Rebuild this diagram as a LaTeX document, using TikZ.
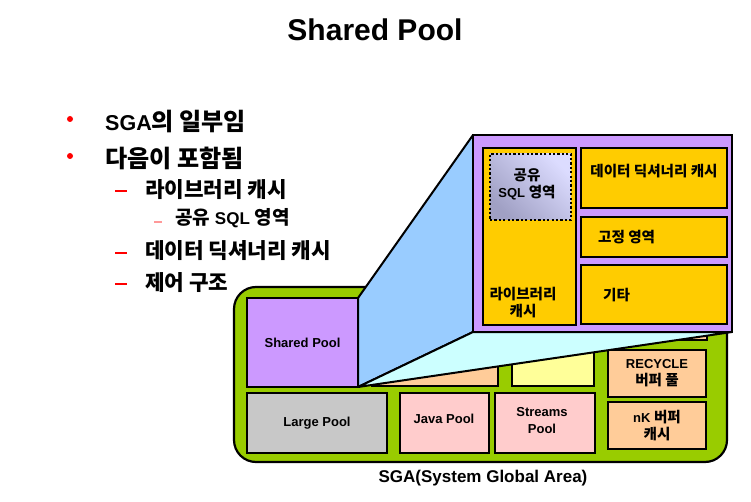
\documentclass[tikz,border=0pt]{standalone}
\usepackage{fontspec}
\setmainfont{Liberation Sans}
\newfontfamily\kr{Noto Sans CJK KR}[Scale=1.12]
\definecolor{sgagreen}{HTML}{99CC00}
\definecolor{sppurple}{HTML}{CC99FF}
\definecolor{sideblue}{HTML}{99CCFF}
\definecolor{lowcyan}{HTML}{CCFFFF}
\definecolor{libyellow}{HTML}{FFCC00}
\definecolor{peach}{HTML}{FFCC99}
\definecolor{lightyellow}{HTML}{FFFF99}
\definecolor{pink}{HTML}{FFCCCC}
\definecolor{greybox}{HTML}{C8C8C8}
\definecolor{bulletred}{HTML}{FF0000}
\definecolor{subred}{HTML}{FF9999}
\definecolor{sqllight}{HTML}{DCDCFF}
\definecolor{sqldark}{HTML}{A0A0C4}
\begin{document}
\begin{tikzpicture}[x=1pt,y=-1pt,
  box/.style={draw=black, line width=2.2pt, inner sep=0pt, outer sep=0pt, anchor=north west},
  lbl/.style={font=\bfseries\fontsize{13}{17}\selectfont, align=center, inner sep=0pt},
  toptext/.style={font=\bfseries\fontsize{21.5}{25}\selectfont, inner sep=0pt, anchor=west},
  itemtext/.style={font=\bfseries\fontsize{19}{23}\selectfont, inner sep=0pt, anchor=west},
  subtext/.style={font=\bfseries\fontsize{17}{21}\selectfont, inner sep=0pt, anchor=west},
  dot/.style={circle, fill=bulletred, inner sep=0pt, minimum size=6pt},
  dashmark/.style={fill=bulletred, inner sep=0pt, minimum width=12pt, minimum height=2pt},
  subdash/.style={fill=subred, inner sep=0pt, minimum width=8pt, minimum height=1.5pt},
  face/.style={draw=black, line width=2pt, line join=round}
  ]
\useasboundingbox[fill=white] (0,0) rectangle (751,502);

% title
\node[font=\bfseries\fontsize{30}{36}\selectfont, inner sep=0pt] (title) at (375,30) {Shared Pool};

% bullet list
\node[dot] (b1) at (70,119) {};
\node[toptext] (t1) at (105,121) {SGA{\kr 의 일부임}};
\node[dot] (b2) at (70,156) {};
\node[toptext] (t2) at (105,158) {\kr 다음이 포함됨};
\node[dashmark] (d1) at (121,191) {};
\node[itemtext] (t3) at (145,190) {\kr 라이브러리 캐시};
\node[subdash] (d2) at (158,222) {};
\node[subtext] (t4) at (175,218) {{\kr 공유} SQL {\kr 영역}};
\node[dashmark] (d3) at (121,253) {};
\node[itemtext] (t5) at (145,251) {\kr 데이터 딕셔너리 캐시};
\node[dashmark] (d4) at (121,284) {};
\node[itemtext] (t6) at (145,283) {\kr 제어 구조};

% SGA
\node[box, fill=sgagreen, rounded corners=22pt, minimum width=493pt, minimum height=175pt] (sga) at (234,287) {};
\node[box, lbl, fill=sppurple, minimum width=111pt, minimum height=89pt] (sp) at (247,298) {Shared Pool};
\node[box, lbl, fill=greybox, minimum width=140pt, minimum height=60pt] (large) at (247,393) {Large Pool};
\node[box, fill=pink, minimum width=89pt, minimum height=60pt] (java) at (400,393) {};
\node[lbl] (javat) at (444,419) {Java Pool};
\node[box, fill=pink, minimum width=100pt, minimum height=60pt] (streams) at (495,393) {};
\node[lbl] (streamst) at (542,421) {Streams\\Pool};
\node[box, lbl, fill=peach, minimum width=98pt, minimum height=47pt] (recycle) at (608,350) {RECYCLE\\{\kr 버퍼 풀}};
\node[box, lbl, fill=peach, minimum width=98pt, minimum height=47pt] (nk) at (608,402) {nK {\kr 버퍼}\\{\kr 캐시}};
\node[box, fill=peach, minimum width=126pt, minimum height=56pt] (hidA) at (372,330) {};
\node[box, fill=lightyellow, minimum width=82pt, minimum height=56pt] (hidB) at (512,330) {};
\node[box, fill=peach, minimum width=100pt, minimum height=40pt] (hidC) at (607,300) {};
\node[font=\bfseries\fontsize{17}{21}\selectfont, inner sep=0pt] (sgat) at (483,478) {SGA(System Global Area)};

% zoom projection
\coordinate (zNW) at (473,135);
\coordinate (zSW) at (473,332);
\coordinate (zSE) at (732,332);
\draw[face, fill=sideblue] (sp.north east) -- (zNW) -- (zSW) -- (sp.south east) -- cycle;
\draw[face, fill=lowcyan] (sp.south east) -- (zSW) -- (zSE) -- cycle;

% zoomed shared pool
\node[box, fill=sppurple, minimum width=259pt, minimum height=197pt] (zoom) at (zNW) {};
\node[box, fill=libyellow, minimum width=93pt, minimum height=177pt] (lib) at (483,148) {};
\node[lbl] (libt) at (523,303) {\kr 라이브러리\\\kr 캐시};
\node[box, line width=2.2pt, dash pattern=on 2.2pt off 2.2pt, top color=sqllight, bottom color=sqldark, shading angle=-45, minimum width=81pt, minimum height=66pt] (sql) at (490,154) {};
\node[lbl] (sqlt) at (527,184) {{\kr 공유}\\SQL {\kr 영역}};
\node[box, fill=libyellow, minimum width=146pt, minimum height=60pt] (dict) at (581,148) {};
\node[lbl] (dictt) at (654,171) {\kr 데이터 딕셔너리 캐시};
\node[box, fill=libyellow, minimum width=146pt, minimum height=40pt] (fixed) at (581,217) {};
\node[lbl, anchor=west] (fixedt) at (598,237) {\kr 고정 영역};
\node[box, fill=libyellow, minimum width=146pt, minimum height=59pt] (other) at (581,265) {};
\node[lbl, anchor=west] (othert) at (603,295) {\kr 기타};
\end{tikzpicture}
\end{document}
